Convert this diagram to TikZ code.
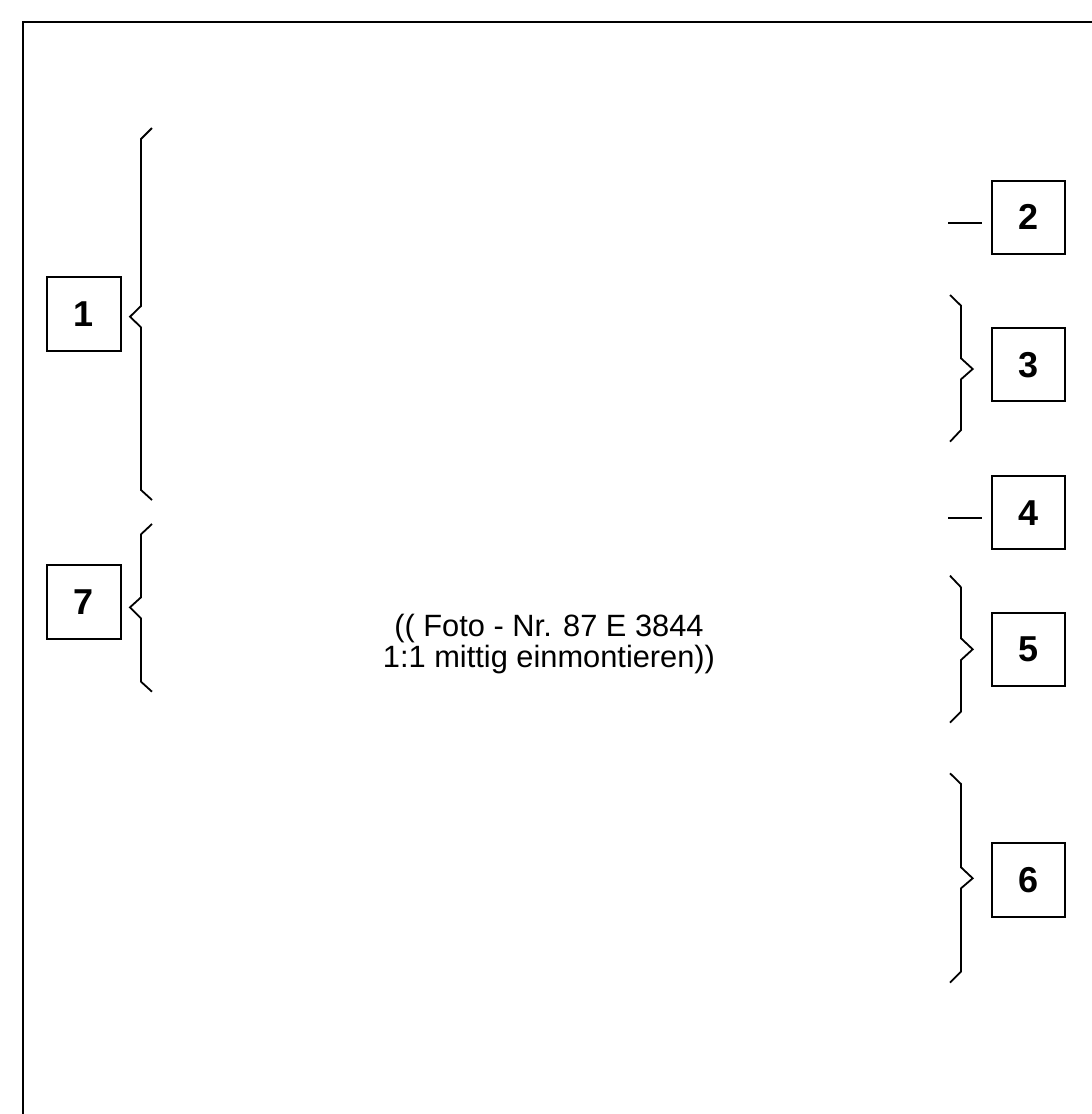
\documentclass[tikz,border=0pt]{standalone}
\usepackage{fontspec}
\setmainfont{Liberation Sans}
\usetikzlibrary{positioning}
\tikzset{
    numbox/.style={draw, line width=1pt, minimum size=36.7pt, inner sep=0pt, font=\fontsize{18}{18}\selectfont\bfseries},
    brace/.style={line width=0.9pt, line join=miter},
    tick/.style={line width=0.9pt},
    frame/.style={line width=1.2pt}
}
\begin{document}
\begin{tikzpicture}[x=0.5pt, y=-0.5pt]
        \useasboundingbox (0,0) rectangle (1092,1114);
        \draw [frame] (23,1114) -- (23,22) -- (1092,22);

        % left column
        \node [numbox] (b1) at (84,314) {1};
        \node [numbox] (b7) at (84,602) {7};

        % right column
        \node [numbox] (b2) at (1028.3,217.3) {2};
        \node [numbox, below=36pt of b2] (b3) {3};
        \node [numbox, below=36.3pt of b3] (b4) {4};
        \node [numbox, below=30.8pt of b4] (b5) {5};
        \node [numbox, below=77.5pt of b5] (b6) {6};

        \node [align=center, font=\fontsize{15.4}{13.6}\selectfont] (foto) at (549,644)
            {(( Foto - Nr. 87 E 3844\\1:1 mittig einmontieren))};

        % braces
        \draw [brace] (152,128) -- (141,139) -- (141,306) -- (130,316.7) -- (141,327.3) -- (141,490) -- (152,500);
        \draw [brace] (152,524) -- (141,534.3) -- (141,597.3) -- (130,607.3) -- (141,618.3) -- (141,681.7) -- (152,691.7);
        \draw [brace] (950,295) -- (961,305.7) -- (961,358.3) -- (972.7,369) -- (961,379.3) -- (961,430) -- (950,441.7);
        \draw [brace] (950,575.7) -- (961,587.3) -- (961,638.3) -- (972.7,649.3) -- (961,660) -- (961,711.7) -- (950,722.7);
        \draw [brace] (950,773.3) -- (961,784) -- (961,867.3) -- (972.7,878.3) -- (961,888.3) -- (961,971.7) -- (950,982.7);

        \draw [tick] ([shift={(-4.5pt,-2.7pt)}]b2.west) -- ++(-17pt,0);
        \draw [tick] ([shift={(-4.5pt,-2.7pt)}]b4.west) -- ++(-17pt,0);
    \end{tikzpicture}
\end{document}
